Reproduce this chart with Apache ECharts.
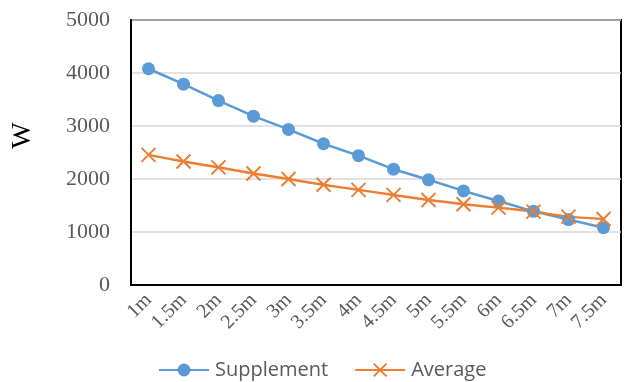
<!DOCTYPE html>
<html><head><meta charset="utf-8">
<script src="https://cdn.jsdelivr.net/npm/echarts@6/dist/echarts.min.js"></script>
<style>html,body{margin:0;padding:0;background:#fff}#c{width:627px;height:382px}</style>
</head><body><div id="c"></div>
<script>
const categories = ['1m','1.5m','2m','2.5m','3m','3.5m','4m','4.5m','5m','5.5m','6m','6.5m','7m','7.5m'];
const supplement = [4080,3790,3480,3185,2935,2665,2440,2185,1985,1775,1585,1390,1235,1080];
const average = [2455,2330,2220,2105,2000,1890,1795,1700,1605,1525,1460,1385,1290,1245];
const yTicks = { min: 0, max: 5000, interval: 1000 };

const chart = echarts.init(document.getElementById('c'));
chart.setOption({
  animation: false,
  backgroundColor: '#fff',
  grid: { left: 131, right: 6, top: 20, bottom: 97, show: true, borderColor: '#000', borderWidth: 2, backgroundColor: 'transparent' },
  legend: {
    left: 153, top: 355, itemWidth: 50, itemHeight: 16, itemGap: 26,
    textStyle: { fontFamily: 'Open Sans', fontSize: 20, color: '#595959', padding: [0,0,0,1] },
    data: ['Supplement', 'Average']
  },
  xAxis: {
    type: 'category', data: categories, boundaryGap: true,
    axisLine: { lineStyle: { color: '#000', width: 2 } },
    axisTick: { inside: true, length: 5, lineStyle: { color: '#000', width: 2 } },
    axisLabel: { interval: 0, hideOverlap: false, rotate: 45, margin: 12, fontFamily: 'Liberation Serif', fontSize: 20, color: '#595959' }
  },
  yAxis: {
    type: 'value', min: yTicks.min, max: yTicks.max, interval: yTicks.interval,
    name: 'W', nameLocation: 'middle', nameGap: 94,
    nameTextStyle: { fontFamily: 'Liberation Serif', fontSize: 28, color: '#000', padding: [0,0,0,34] },
    axisLine: { show: true, lineStyle: { color: '#000', width: 2 } },
    axisTick: { show: false },
    axisLabel: { margin: 21, fontFamily: 'Liberation Serif', fontSize: 22, color: '#595959', formatter: v => String(v) },
    splitLine: { lineStyle: { color: '#d9d9d9', width: 1.5 } }
  },
  series: [
    {
      name: 'Supplement', type: 'line', data: supplement,
      symbol: 'circle', symbolSize: 13,
      itemStyle: { color: '#5B9BD5' },
      lineStyle: { color: '#5B9BD5', width: 2.5 }
    },
    {
      name: 'Average', type: 'line', data: average, smooth: 0.2,
      symbol: 'path://M0,0L10,10M10,0L0,10', symbolSize: 14,
      itemStyle: { color: 'none', borderColor: '#ED7D31', borderWidth: 2 },
      lineStyle: { color: '#ED7D31', width: 2.5 }
    }
  ]
});
</script></body></html>
